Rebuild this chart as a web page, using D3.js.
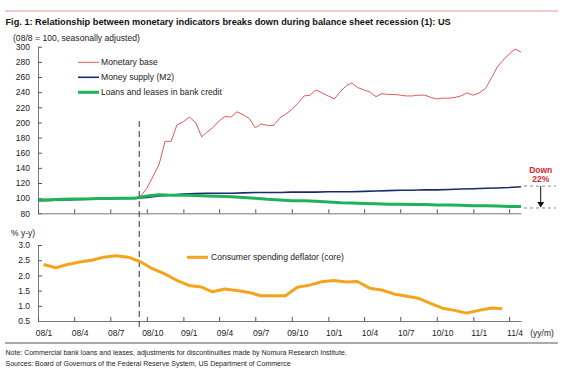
<!DOCTYPE html>
<html>
<head>
<meta charset="utf-8">
<script src="https://cdn.jsdelivr.net/npm/d3@7"></script>
<style>
body { margin: 0; background: #fff; }
svg { display: block; font-family: "Liberation Sans", Arial, sans-serif; }
</style>
</head>
<body>
<svg id="chart"></svg>
<script>

const width = 571;
const height = 372;

// quarter labels on the x axis
const tickLabels = ["08/1","08/4","08/7","08/10","09/1","09/4","09/7","09/10",
                    "10/1","10/4","10/7","10/10","11/1","11/4"];

// monetary base, twice a month from 08/1 (08/8 = 100)
const monetaryBase = [
  97, 97.5, 98, 98, 98.5, 99, 98.5, 99, 99, 99.5, 99.5, 99, 99.5, 100, 100, 100, 100,
  103, 113, 128, 145, 175, 175, 197, 201, 207, 200, 181, 187, 193, 202, 208,
  207, 214, 210, 205, 193, 198, 196, 196, 206, 211, 217, 225, 235, 236,
  243, 239, 235, 231, 241, 249, 252, 246, 243, 240, 234, 238, 237, 237,
  236, 235, 235, 236, 236, 233, 231, 232, 232, 233, 235, 239, 236, 239,
  245, 259, 272, 282, 290, 297, 293
];

// money supply (M2), monthly from 08/1
const moneySupply = [
  96.5, 97, 97.5, 98, 98.5, 99, 99.5, 99.5, 100, 101, 103, 104, 105.5, 106,
  106.5, 106.5, 106.5, 107, 107.5, 107.5, 107.5, 108, 108, 108, 108.5, 108.5,
  108.5, 109, 109.5, 110, 110.5, 110.5, 111, 111, 111.5, 112, 112.5, 113,
  113.5, 114, 115
];

// loans and leases in bank credit, monthly from 08/1
const loans = [
  97.5, 98, 98.5, 99, 99, 99.5, 99.5, 100, 100, 103, 104.5, 104, 104, 103.5,
  103, 102.5, 102, 101, 100, 98.5, 97.5, 96.5, 96.5, 96, 95, 94, 93.5, 93,
  92.5, 92, 92, 91.5, 91.5, 91, 91, 90.5, 90, 90, 89.5, 89, 89
];

// consumer spending deflator (core), % y-y, monthly 08/1 .. 11/3
const deflator = [
  2.36, 2.25, 2.36, 2.44, 2.50, 2.60, 2.65, 2.60, 2.45, 2.22, 2.05, 1.84, 1.67,
  1.62, 1.46, 1.55, 1.50, 1.44, 1.33, 1.33, 1.33, 1.61, 1.68, 1.79, 1.83, 1.78,
  1.80, 1.58, 1.52, 1.39, 1.32, 1.25, 1.08, 0.92, 0.85, 0.76, 0.85, 0.93, 0.90
];

const yTicksTop = [80,100,120,140,160,180,200,220,240,260,280,300];
const yTicksBottom = [0.5,1.0,1.5,2.0,2.5,3.0];
const downLevels = [116, 87];

const svg = d3.select("#chart")
  .attr("width", width)
  .attr("height", height);

const x = d3.scaleTime()
  .domain([new Date(2008, 0, 1), new Date(2011, 4, 1)])
  .range([38, 521]);

const yTop = d3.scaleLinear().domain([80, 300]).range([213.3, 46.7]);
const yBot = d3.scaleLinear().domain([0.5, 3.0]).range([321, 245]);

const quarterDates = tickLabels.map((t, i) => new Date(2008, i * 3, 1));

// header
svg.append("line")
  .attr("x1", 5).attr("x2", 558).attr("y1", 11).attr("y2", 11)
  .style("stroke", "#e59a95").style("stroke-width", 1);

svg.append("text")
  .attr("x", 5.5).attr("y", 25)
  .style("font-size", "9.2px").style("font-weight", "bold").style("fill", "#111")
  .text("Fig. 1:  Relationship between monetary indicators breaks down during balance sheet recession (1): US");

svg.append("text")
  .attr("x", 13).attr("y", 40.5)
  .style("font-size", "8.6px").style("fill", "#222")
  .text("(08/8 = 100, seasonally adjusted)");

// axes
function styleAxis(g) {
  g.select(".domain").style("stroke", "#777");
  g.selectAll(".tick line").style("stroke", "#555");
  g.selectAll(".tick text").style("font-size", "8.5px").style("fill", "#222")
    .style("font-family", "'Liberation Sans', Arial, sans-serif");
}

svg.append("g")
  .attr("transform", "translate(38,0)")
  .call(d3.axisLeft(yTop).tickValues(yTicksTop).tickSizeInner(-4).tickSizeOuter(0).tickPadding(8))
  .call(styleAxis);

svg.append("g")
  .attr("transform", "translate(0,213.3)")
  .call(d3.axisBottom(x).tickValues(quarterDates).tickSizeInner(-4).tickSizeOuter(0).tickFormat(""))
  .call(styleAxis);

svg.append("g")
  .attr("transform", "translate(38,0)")
  .call(d3.axisLeft(yBot).tickValues(yTicksBottom).tickSizeInner(-4).tickSizeOuter(0).tickPadding(8)
        .tickFormat(d3.format(".1f")))
  .call(styleAxis);

svg.append("g")
  .attr("transform", "translate(0,321)")
  .call(d3.axisBottom(x).tickValues(quarterDates).tickSizeInner(-4).tickSizeOuter(0).tickFormat(""))
  .call(styleAxis);

svg.selectAll(".xlabel")
  .data(tickLabels)
  .enter().append("text")
  .attr("class", "xlabel")
  .attr("x", (d, i) => x(new Date(2008, i * 3, 16)))
  .attr("y", 336)
  .attr("text-anchor", "middle")
  .style("font-size", "8.5px").style("fill", "#222")
  .text(d => d);

svg.append("text")
  .attr("x", 542).attr("y", 336).attr("text-anchor", "middle")
  .style("font-size", "8.5px").style("fill", "#222")
  .text("(yy/m)");

svg.append("text")
  .attr("x", 11).attr("y", 236)
  .style("font-size", "8.5px").style("fill", "#222")
  .text("% y-y)");

// lehman line
const lehman = new Date(2008, 8, 12);
svg.append("line")
  .attr("x1", x(lehman)).attr("x2", x(lehman))
  .attr("y1", 121).attr("y2", 327)
  .style("stroke", "#555").style("stroke-width", 1.2)
  .style("stroke-dasharray", "6,4");

// series
const lineTop = d3.line().x(d => x(d.date)).y(d => yTop(d.v));
const lineBot = d3.line().x(d => x(d.date)).y(d => yBot(d.v));

const baseData = monetaryBase.map((v, i) => ({ date: new Date(2008, Math.floor(i / 2), i % 2 ? 16 : 1), v }));
const m2Data = moneySupply.map((v, i) => ({ date: new Date(2008, i, 1), v }));
const loanData = loans.map((v, i) => ({ date: new Date(2008, i, 1), v }));
const deflData = deflator.map((v, i) => ({ date: new Date(2008, i, 15), v }));

svg.append("path").datum(baseData).attr("d", lineTop)
  .style("fill", "none").style("stroke", "#e2595a").style("stroke-width", 1);

svg.append("path").datum(m2Data).attr("d", lineTop)
  .style("fill", "none").style("stroke", "#1b2a6e").style("stroke-width", 1.6);

svg.append("path").datum(loanData).attr("d", lineTop)
  .style("fill", "none").style("stroke", "#1fb25a").style("stroke-width", 3)
  .style("stroke-linejoin", "round");

svg.append("path").datum(deflData).attr("d", lineBot)
  .style("fill", "none").style("stroke", "#f5a31c").style("stroke-width", 3)
  .style("stroke-linejoin", "round");

// legends
const legendTop = [
  { name: "Monetary base", color: "#e2595a", w: 1, y: 62.3 },
  { name: "Money supply (M2)", color: "#1b2a6e", w: 1.6, y: 77.3 },
  { name: "Loans and leases in bank credit", color: "#1fb25a", w: 3, y: 92.3 }
];

const leg = svg.selectAll(".leg")
  .data(legendTop)
  .enter().append("g").attr("class", "leg");
leg.append("line")
  .attr("x1", 78).attr("x2", 99).attr("y1", d => d.y).attr("y2", d => d.y)
  .style("stroke", d => d.color).style("stroke-width", d => d.w);
leg.append("text")
  .attr("x", 101).attr("y", d => d.y + 3)
  .style("font-size", "8.6px").style("fill", "#222")
  .text(d => d.name);

svg.append("line")
  .attr("x1", 187).attr("x2", 208).attr("y1", 257.3).attr("y2", 257.3)
  .style("stroke", "#f5a31c").style("stroke-width", 3);
svg.append("text")
  .attr("x", 211).attr("y", 260.3)
  .style("font-size", "8.6px").style("fill", "#222")
  .text("Consumer spending deflator (core)");

// down 22% annotation
svg.selectAll(".dl")
  .data(downLevels)
  .enter().append("line").attr("class", "dl")
  .attr("x1", 524).attr("x2", 556)
  .attr("y1", d => yTop(d)).attr("y2", d => yTop(d))
  .style("stroke", "#888").style("stroke-width", 1)
  .style("stroke-dasharray", "3,3");

svg.append("line")
  .attr("x1", 540.7).attr("x2", 540.7)
  .attr("y1", yTop(downLevels[0])).attr("y2", yTop(downLevels[1]) - 5)
  .style("stroke", "#111").style("stroke-width", 1);
svg.append("path")
  .attr("d", `M${537.2},${yTop(downLevels[1]) - 6} L${544.2},${yTop(downLevels[1]) - 6} L${540.7},${yTop(downLevels[1]) - 0.5} Z`)
  .style("fill", "#111");

svg.append("text")
  .attr("x", 540.7).attr("y", 172.5).attr("text-anchor", "middle")
  .style("font-size", "8.5px").style("font-weight", "bold").style("fill", "#e0252b")
  .text("Down");
svg.append("text")
  .attr("x", 540.7).attr("y", 181.5).attr("text-anchor", "middle")
  .style("font-size", "8.5px").style("font-weight", "bold").style("fill", "#e0252b")
  .text("22%");

// footer
svg.append("line")
  .attr("x1", 5).attr("x2", 558).attr("y1", 343).attr("y2", 343)
  .style("stroke", "#aaa").style("stroke-width", 2);

svg.append("text")
  .attr("x", 5.5).attr("y", 354.5)
  .style("font-size", "7px").style("fill", "#222")
  .text("Note: Commercial bank loans and leases, adjustments for discontinuities made by Nomura Research Institute.");

svg.append("text")
  .attr("x", 5.5).attr("y", 366)
  .style("font-size", "7px").style("fill", "#222")
  .text("Sources: Board of Governors of the Federal Reserve System, US Department of Commerce");

</script>
</body>
</html>
